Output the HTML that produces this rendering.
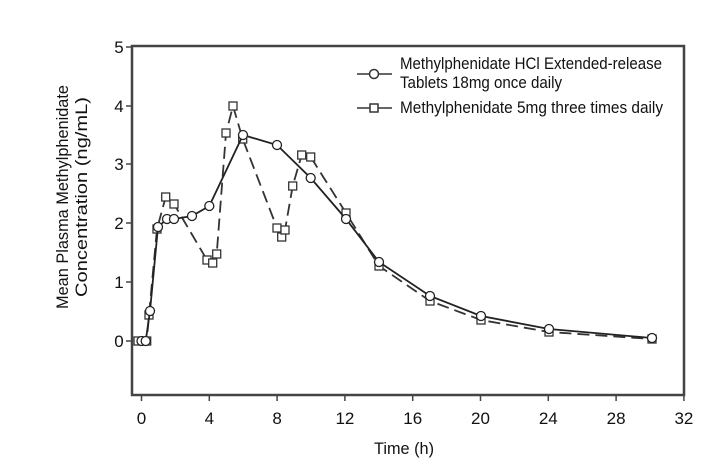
<!DOCTYPE html>
<html><head><meta charset="utf-8"><style>
html,body{margin:0;padding:0;background:#fff;}
svg{display:block;font-family:"Liberation Sans",sans-serif;}
</style></head><body>
<svg width="725" height="475" viewBox="0 0 725 475">
<rect x="132" y="46" width="552" height="349" fill="none" stroke="#444" stroke-width="2.5"/>
<g stroke="#444" stroke-width="1.5">
<line x1="126" y1="47" x2="132" y2="47"/><line x1="126" y1="106" x2="132" y2="106"/><line x1="126" y1="164" x2="132" y2="164"/><line x1="126" y1="223" x2="132" y2="223"/><line x1="126" y1="282" x2="132" y2="282"/><line x1="126" y1="341" x2="132" y2="341"/>
<line x1="141.5" y1="395" x2="141.5" y2="401"/><line x1="209.3" y1="395" x2="209.3" y2="401"/><line x1="277.1" y1="395" x2="277.1" y2="401"/><line x1="344.9" y1="395" x2="344.9" y2="401"/><line x1="412.7" y1="395" x2="412.7" y2="401"/><line x1="480.5" y1="395" x2="480.5" y2="401"/><line x1="548.3" y1="395" x2="548.3" y2="401"/><line x1="616.1" y1="395" x2="616.1" y2="401"/><line x1="683.9" y1="395" x2="683.9" y2="401"/>
</g>
<g font-size="17" fill="#111" text-anchor="middle">
<text x="119" y="53">5</text><text x="119" y="112">4</text><text x="119" y="170">3</text><text x="119" y="229">2</text><text x="119" y="288">1</text><text x="119" y="347">0</text>
<text x="141.5" y="424">0</text><text x="209.3" y="424">4</text><text x="277.1" y="424">8</text><text x="344.9" y="424">12</text><text x="412.7" y="424">16</text><text x="480.5" y="424">20</text><text x="548.3" y="424">24</text><text x="616.1" y="424">28</text><text x="683.9" y="424">32</text>
<text x="404" y="454" textLength="60" lengthAdjust="spacingAndGlyphs">Time (h)</text>
<g transform="translate(68,197) rotate(-90)"><text x="0" y="0" textLength="224" lengthAdjust="spacingAndGlyphs">Mean Plasma Methylphenidate</text><text x="0" y="19" textLength="200" lengthAdjust="spacingAndGlyphs">Concentration (ng/mL)</text></g>
</g>
<g font-size="17" fill="#111">
<text x="400" y="69" textLength="262" lengthAdjust="spacingAndGlyphs">Methylphenidate HCl Extended-release</text>
<text x="400" y="88" textLength="162" lengthAdjust="spacingAndGlyphs">Tablets 18mg once daily</text>
<text x="400" y="113" textLength="263" lengthAdjust="spacingAndGlyphs">Methylphenidate 5mg three times daily</text>
</g>
<g stroke="#333" stroke-width="1.5" fill="#fff">
<line x1="357" y1="74" x2="392" y2="74"/><circle cx="374" cy="74" r="4.5"/>
<line x1="357" y1="108" x2="392" y2="108"/><rect x="370" y="104" width="8" height="8"/>
</g>
<!-- squares series -->
<polyline fill="none" stroke="#333" stroke-width="1.8" stroke-dasharray="12,6" points="138,341 146.7,341 149,315 157,229 165.7,197 174,204 207,260 212.7,263 216.7,254 226,133 233,106 242.7,139 277,228 281.7,237 285,230 292.7,186 301.7,155 310.7,157 346,213 379,266 430,301 481,320 549,332 652,339"/>
<g stroke="#333" stroke-width="1.3" fill="#fff">
<rect x="134" y="337" width="8" height="8"/><rect x="142.7" y="337" width="8" height="8"/><rect x="145" y="311" width="8" height="8"/><rect x="153" y="225" width="8" height="8"/><rect x="161.7" y="193" width="8" height="8"/><rect x="170" y="200" width="8" height="8"/><rect x="203" y="256" width="8" height="8"/><rect x="208.7" y="259" width="8" height="8"/><rect x="212.7" y="250" width="8" height="8"/><rect x="222" y="129" width="8" height="8"/><rect x="229" y="102" width="8" height="8"/><rect x="238.7" y="135" width="8" height="8"/><rect x="273" y="224" width="8" height="8"/><rect x="277.7" y="233" width="8" height="8"/><rect x="281" y="226" width="8" height="8"/><rect x="288.7" y="182" width="8" height="8"/><rect x="297.7" y="151" width="8" height="8"/><rect x="306.7" y="153" width="8" height="8"/><rect x="342" y="209" width="8" height="8"/><rect x="375" y="262" width="8" height="8"/><rect x="426" y="297" width="8" height="8"/><rect x="477" y="316" width="8" height="8"/><rect x="545" y="328" width="8" height="8"/><rect x="648" y="335" width="8" height="8"/>
</g>
<!-- circle series -->
<polyline fill="none" stroke="#222" stroke-width="1.8" points="141.5,341 145.7,341 150,311 158,227 167,219 174,219 192,216 209.3,206 243,135 277,145 310.7,178 346,219 379,262 430,296 481,316 549,329 652,338"/>
<g stroke="#222" stroke-width="1.3" fill="#fff">
<circle cx="141.5" cy="341" r="4.5"/><circle cx="145.7" cy="341" r="4.5"/><circle cx="150" cy="311" r="4.5"/><circle cx="158" cy="227" r="4.5"/><circle cx="167" cy="219" r="4.5"/><circle cx="174" cy="219" r="4.5"/><circle cx="192" cy="216" r="4.5"/><circle cx="209.3" cy="206" r="4.5"/><circle cx="243" cy="135" r="4.5"/><circle cx="277" cy="145" r="4.5"/><circle cx="310.7" cy="178" r="4.5"/><circle cx="346" cy="219" r="4.5"/><circle cx="379" cy="262" r="4.5"/><circle cx="430" cy="296" r="4.5"/><circle cx="481" cy="316" r="4.5"/><circle cx="549" cy="329" r="4.5"/><circle cx="652" cy="338" r="4.5"/>
</g>
</svg>
</body></html>
